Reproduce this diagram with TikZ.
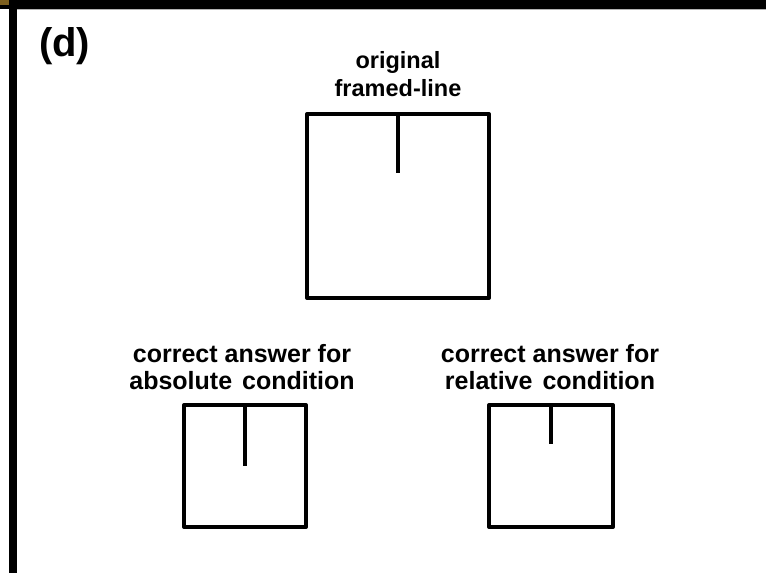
\documentclass[tikz,border=0pt]{standalone}
\usepackage{fontspec}
\setmainfont{Liberation Sans}
\definecolor{goldish}{RGB}{125,95,30}
\newcommand\mylblfont{\fontsize{25}{27}\selectfont\bfseries}
\newcommand\mytopfont{\fontsize{23.5}{28}\selectfont\bfseries}
\tikzset{
  frame/.style={draw=black, line width=4pt, line join=round},
  tick/.style={draw=black, line width=4pt},
  lbl/.style={font=\mylblfont, align=center, inner sep=0pt, anchor=base},
  toplbl/.style={font=\mytopfont, align=center, inner sep=0pt, anchor=base},
}
\begin{document}
\begin{tikzpicture}[x=1pt,y=-1pt]
\useasboundingbox (0,0) rectangle (766,573);
\fill[white] (0,0) rectangle (766,573);
% top and left bars
\fill[black] (0,0) rectangle (766,8.5);
\fill[gray!60] (17,8.5) rectangle (766,9.5);
\fill[black] (8.5,0) rectangle (17,573);
\fill[goldish] (0,0) rectangle (8.5,5);
% label (d)
\node[font=\fontsize{40}{44}\selectfont\bfseries, inner sep=0pt, anchor=base west] (d) at (39,56) {(d)};
% main box
\node[frame, minimum width=182pt, minimum height=184pt, inner sep=0pt] (orig) at (398,206) {};
\draw[tick] (orig.north -| 398,0) -- (398,173);
\node[toplbl] (t1) at (398,68) {original};
\node[toplbl] (t2) at (398,96) {framed-line};
% absolute box
\node[frame, minimum width=122pt, minimum height=122pt, inner sep=0pt] (abs) at (245,466) {};
\draw[tick] (abs.north -| 245,0) -- (245,466);
\node[lbl] (a1) at (242,362) {correct answer for};
\node[lbl] (a2) at (242,389) {absolute\hspace{10pt}condition};
% relative box
\node[frame, minimum width=124pt, minimum height=122pt, inner sep=0pt] (rel) at (551,466) {};
\draw[tick] (rel.north -| 551,0) -- (551,444);
\node[lbl] (r1) at (550,362) {correct answer for};
\node[lbl] (r2) at (550,389) {relative\hspace{10pt}condition};
\end{tikzpicture}
\end{document}
